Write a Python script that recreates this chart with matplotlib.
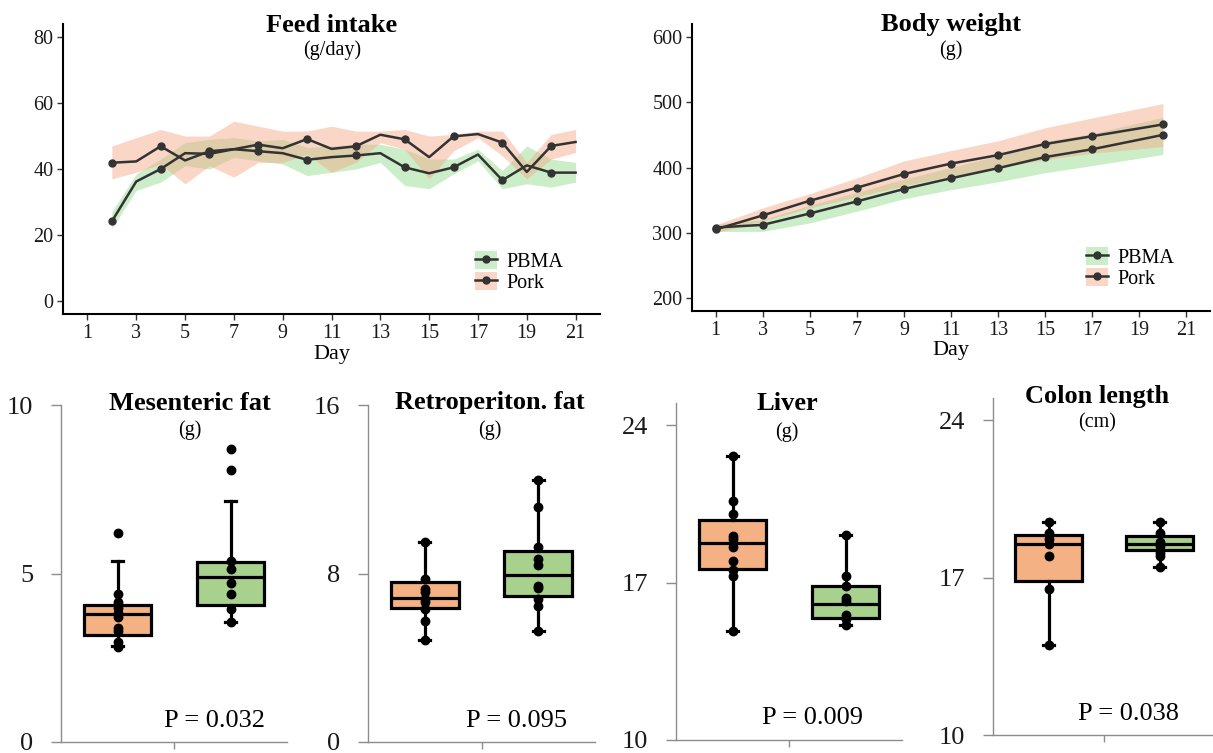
import matplotlib
matplotlib.use("Agg")
import matplotlib.pyplot as plt
from matplotlib.patches import Patch
from matplotlib.lines import Line2D

plt.rcParams['font.family'] = ['Liberation Serif', 'DejaVu Serif']

# ---------------- data ----------------
fi_days = list(range(2, 22))
fi_pork = [41.9, 42.3, 46.9, 42.6, 45.4, 46.0, 47.4, 46.3, 49.1, 46.1,
           46.9, 50.4, 49.0, 43.6, 49.9, 50.6, 48.0, 39.1, 47.0, 48.2]
fi_pork_lo = [37.0, 39.0, 41.5, 35.5, 41.0, 37.5, 42.0, 42.0, 44.5, 39.0,
              42.0, 48.0, 46.0, 37.0, 45.5, 49.5, 44.0, 37.0, 43.0, 45.0]
fi_pork_hi = [47.0, 49.5, 52.0, 50.0, 50.0, 54.5, 53.0, 51.5, 51.5, 53.0,
              51.5, 51.5, 52.0, 50.0, 50.5, 51.5, 51.5, 42.0, 50.5, 52.0]
fi_pbma = [24.1, 36.2, 40.0, 44.8, 44.6, 46.0, 45.4, 44.8, 42.8, 43.6,
           44.1, 44.8, 40.5, 38.7, 40.5, 44.4, 36.6, 41.1, 38.9, 38.9]
fi_pbma_lo = [22.0, 33.5, 36.0, 41.0, 40.0, 43.5, 42.5, 41.5, 38.0, 39.0,
              40.0, 42.0, 35.0, 34.0, 38.5, 42.5, 34.0, 35.5, 34.5, 36.0]
fi_pbma_hi = [27.0, 38.5, 43.0, 48.0, 49.0, 49.5, 48.5, 49.0, 46.5, 47.0,
              47.5, 47.5, 46.0, 43.0, 43.0, 46.0, 39.5, 47.0, 43.0, 42.0]

bw_days = [1, 3, 5, 7, 9, 11, 13, 15, 17, 20]
bw_pork = [305, 326.5, 349, 369, 390, 406, 419, 436, 448, 466]
bw_pork_lo = [300, 318, 338, 355, 372, 387, 400, 412, 422, 432]
bw_pork_hi = [312, 338, 360, 384, 410, 426, 441, 461, 476, 498]
bw_pbma = [308, 312, 329.5, 348, 367, 383.5, 399, 416, 428, 450]
bw_pbma_lo = [302, 302, 315, 333, 352, 366, 378, 392, 403, 420]
bw_pbma_hi = [313, 320, 342, 362, 382, 400, 418, 440, 452, 477]

day_ticks = [1, 3, 5, 7, 9, 11, 13, 15, 17, 19, 21]

box_titles = ["Mesenteric fat", "Retroperiton. fat", "Liver", "Colon length"]
box_units = ["(g)", "(g)", "(g)", "(cm)"]
box_pvals = ["P = 0.032", "P = 0.095", "P = 0.009", "P = 0.038"]
box_yticks = [[0, 5, 10], [0, 8, 16], [10, 17, 24], [10, 17, 24]]
box_ylims = [(0, 10), (0, 16), (10, 25), (10, 25)]

# box stats: [whislo, q1, median, q3, whishi]
pork_box = [[2.86, 3.17, 3.79, 4.06, 5.37],
            [4.84, 6.34, 6.86, 7.60, 9.50],
            [14.87, 17.61, 18.79, 19.79, 22.66],
            [14.00, 16.85, 18.49, 18.91, 19.50]]
pbma_box = [[3.57, 4.08, 4.91, 5.34, 7.16],
            [5.28, 6.94, 7.93, 9.09, 12.46],
            [15.14, 15.41, 16.07, 16.87, 19.11],
            [17.47, 18.24, 18.51, 18.86, 19.50]]
pork_pts = [[6.21, 4.38, 4.16, 3.98, 3.84, 3.72, 3.37, 3.30, 2.96, 2.83],
            [9.50, 7.73, 7.26, 7.10, 6.78, 6.66, 6.31, 5.73, 4.84],
            [22.66, 20.65, 20.06, 19.10, 18.94, 18.61, 17.95, 17.55, 17.28, 14.87],
            [19.50, 19.01, 18.72, 18.51, 17.98, 16.50, 14.00]]
pbma_pts = [[8.70, 8.06, 5.37, 5.12, 4.71, 4.38, 3.96, 3.57],
            [12.46, 11.14, 9.24, 8.67, 8.39, 7.41, 7.29, 6.78, 6.44, 5.28],
            [19.11, 17.28, 16.87, 16.32, 16.17, 15.58, 15.39, 15.14],
            [19.50, 18.98, 18.57, 18.40, 18.10, 17.95, 17.47]]

# ---------------- styling ----------------
W, H = 1213, 753
fig = plt.figure(figsize=(W / 100, H / 100), dpi=100)

GREEN_FILL = '#7fd67a'
ORANGE_FILL = '#f4a582'
LINE_C = '#333333'
BOX_ORANGE = '#F4B183'
BOX_GREEN = '#A9D18E'


def ax_px(l, r, t, b):
    return fig.add_axes([l / W, 1 - b / H, (r - l) / W, (b - t) / H])


def ftext(x, y, s, **kw):
    fig.text(x / W, 1 - y / H, s, ha='center', va='center', **kw)


def line_panel(ax, days, pork, plo, phi, pbma, blo, bhi, ylim, yticks, markevery):
    ax.fill_between(days, blo, bhi, color=GREEN_FILL, alpha=0.40, lw=0)
    ax.fill_between(days, plo, phi, color=ORANGE_FILL, alpha=0.45, lw=0)
    ax.plot(days, pbma, color=LINE_C, lw=1.8, marker='o', ms=5, markevery=markevery)
    ax.plot(days, pork, color=LINE_C, lw=1.8, marker='o', ms=5, markevery=markevery)
    ax.set_xlim(0, 22)
    ax.set_ylim(*ylim)
    ax.set_xticks(day_ticks)
    ax.set_yticks(yticks)
    for s in ['top', 'right']:
        ax.spines[s].set_visible(False)
    for s in ['left', 'bottom']:
        ax.spines[s].set_linewidth(1.5)
        ax.spines[s].set_color('black')
    ax.tick_params(axis='both', labelsize=14.5, length=4, width=1, color='#333333',
                   labelcolor='#1a1a1a', pad=3)
    ax.patch.set_alpha(0)


# Feed intake
ax1 = ax_px(63, 600, 24, 314)
line_panel(ax1, fi_days, fi_pork, fi_pork_lo, fi_pork_hi, fi_pbma, fi_pbma_lo,
           fi_pbma_hi, (-4, 84), [0, 20, 40, 60, 80], slice(0, None, 2))
ftext(332, 25, "Feed intake", fontsize=19, fontweight='bold')
ftext(332, 50, "(g/day)", fontsize=14.5)
ftext(332, 354, "Day", fontsize=16)

# Body weight
ax2 = ax_px(692, 1210, 24, 311)
line_panel(ax2, bw_days, bw_pork, bw_pork_lo, bw_pork_hi, bw_pbma, bw_pbma_lo,
           bw_pbma_hi, (180, 620), [200, 300, 400, 500, 600], None)
ftext(951, 25, "Body weight", fontsize=19, fontweight='bold')
ftext(951, 50, "(g)", fontsize=14.5)
ftext(951, 351, "Day", fontsize=16)


def make_handles():
    h_b = (Patch(facecolor=GREEN_FILL, alpha=0.40, lw=0),
           Line2D([], [], color=LINE_C, lw=1.8, marker='o', ms=5))
    h_p = (Patch(facecolor=ORANGE_FILL, alpha=0.45, lw=0),
           Line2D([], [], color=LINE_C, lw=1.8, marker='o', ms=5))
    return [h_b, h_p]


for (x0, y0) in [(475, 251), (1086, 247)]:
    fig.legend(make_handles(), ["PBMA", "Pork"], loc='upper left',
               bbox_to_anchor=(x0 / W, 1 - y0 / H), frameon=False,
               fontsize=14.5, handlelength=1.1, handleheight=1.0,
               labelspacing=0.0, handletextpad=0.45, borderpad=0, borderaxespad=0)

# ---------------- box panels ----------------
box_axes_px = [(61, 287, 405, 742), (368, 595, 405, 742),
               (676, 902, 403, 740), (993, 1215, 398, 735)]
title_pos = [(190, 403, 430), (490, 403, 430), (787, 403, 432), (1097, 396, 423)]
pval_pos = [(214, 721), (517, 721), (812, 718), (1129, 714)]

for i in range(4):
    l, r, t, b = box_axes_px[i]
    ax = ax_px(l, r, t, b)
    stats = []
    for bs in (pork_box[i], pbma_box[i]):
        stats.append(dict(whislo=bs[0], q1=bs[1], med=bs[2], q3=bs[3], whishi=bs[4]))
    bp = ax.bxp(stats, positions=[1, 2], widths=0.6, patch_artist=True,
                showfliers=False, capwidths=0.1,
                boxprops=dict(lw=2.3, edgecolor='black'),
                medianprops=dict(color='black', lw=2.3),
                whiskerprops=dict(color='black', lw=2.3),
                capprops=dict(color='black', lw=2.3))
    for patch, c in zip(bp['boxes'], [BOX_ORANGE, BOX_GREEN]):
        patch.set_facecolor(c)
    ax.scatter([1] * len(pork_pts[i]), pork_pts[i], s=50, color='black', zorder=4, lw=0)
    ax.scatter([2] * len(pbma_pts[i]), pbma_pts[i], s=50, color='black', zorder=4, lw=0)
    ax.set_xlim(0.5, 2.5)
    ax.set_ylim(*box_ylims[i])
    ax.set_yticks(box_yticks[i])
    ax.set_xticks([1.5])
    ax.set_xticklabels([])
    for s in ['top', 'right']:
        ax.spines[s].set_visible(False)
    for s in ['left', 'bottom']:
        ax.spines[s].set_linewidth(1.0)
        ax.spines[s].set_color('#8c8c8c')
    ax.tick_params(axis='y', labelsize=19, length=7, width=1, color='#8c8c8c',
                   labelcolor='#1a1a1a', pad=13)
    ax.tick_params(axis='x', length=5, width=1, color='#8c8c8c')
    ax.patch.set_alpha(0)
    tx, ty, uy = title_pos[i]
    ftext(tx, ty, box_titles[i], fontsize=19, fontweight='bold')
    ftext(tx, uy, box_units[i], fontsize=14.5)
    px, py = pval_pos[i]
    ftext(px, py, box_pvals[i], fontsize=19)

fig.savefig("out.png", dpi=100)
